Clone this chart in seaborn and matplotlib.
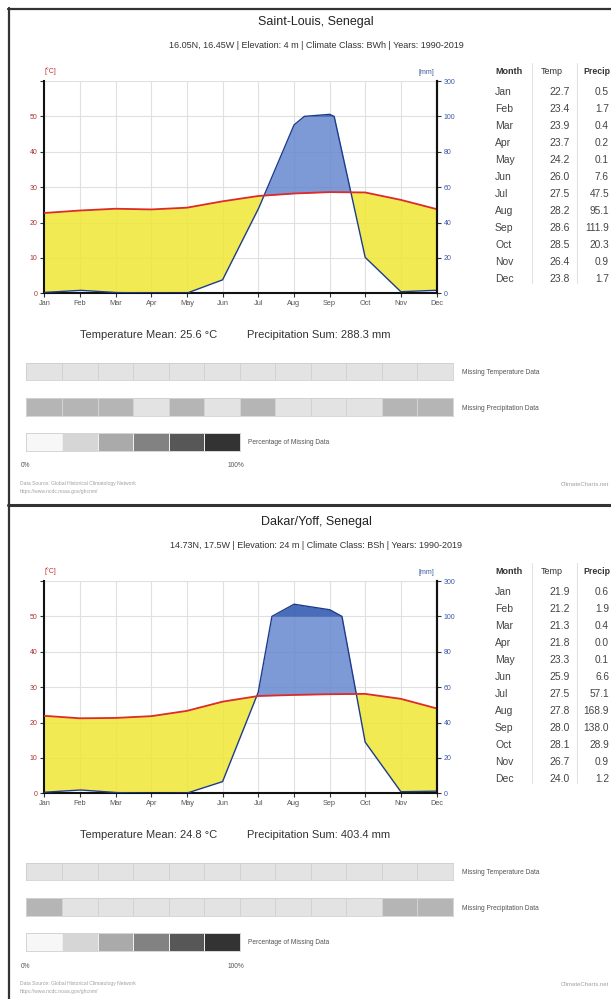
import numpy as np
import pandas as pd
import matplotlib
matplotlib.use('Agg')
import matplotlib.pyplot as plt
import seaborn as sns
from matplotlib.lines import Line2D
from matplotlib.colors import ListedColormap

# ---------------- data ----------------
months = ['Jan', 'Feb', 'Mar', 'Apr', 'May', 'Jun', 'Jul', 'Aug', 'Sep', 'Oct', 'Nov', 'Dec']

sl_name = 'Saint-Louis, Senegal'
sl_info = '16.05N, 16.45W | Elevation: 4 m | Climate Class: BWh | Years: 1990-2019'
sl_temp = [22.7, 23.4, 23.9, 23.7, 24.2, 26.0, 27.5, 28.2, 28.6, 28.5, 26.4, 23.8]
sl_prec = [0.5, 1.7, 0.4, 0.2, 0.1, 7.6, 47.5, 95.1, 111.9, 20.3, 0.9, 1.7]
sl_mean = '25.6'
sl_sum = '288.3'
sl_miss_temp = [0, 0, 0, 0, 0, 0, 0, 0, 0, 0, 0, 0]
sl_miss_prec = [1, 1, 1, 0, 1, 0, 1, 0, 0, 0, 1, 1]

dk_name = 'Dakar/Yoff, Senegal'
dk_info = '14.73N, 17.5W | Elevation: 24 m | Climate Class: BSh | Years: 1990-2019'
dk_temp = [21.9, 21.2, 21.3, 21.8, 23.3, 25.9, 27.5, 27.8, 28.0, 28.1, 26.7, 24.0]
dk_prec = [0.6, 1.9, 0.4, 0.0, 0.1, 6.6, 57.1, 168.9, 138.0, 28.9, 0.9, 1.2]
dk_mean = '24.8'
dk_sum = '403.4'
dk_miss_temp = [0, 0, 0, 0, 0, 0, 0, 0, 0, 0, 0, 0]
dk_miss_prec = [1, 0, 0, 0, 0, 0, 0, 0, 0, 0, 1, 1]

left_ticks = [0, 10, 20, 30, 40, 50, 60]
left_labels = ['0', '10', '20', '30', '40', '50', '']
right_labels = ['0', '20', '40', '60', '80', '100', '300']
legend_levels = [0, 1, 2, 3, 4, 5]

# ---------------- style ----------------
sns.set_theme(style='white')
plt.rcParams['font.family'] = ['Liberation Sans', 'DejaVu Sans']

W, H = 611, 999
fig = plt.figure(figsize=(W / 100, H / 100), dpi=100)


def fx(x):
    return x / W


def fy(y):
    return 1 - y / H


def rect(x0, y0, x1, y1):
    return [x0 / W, 1 - y1 / H, (x1 - x0) / W, (y1 - y0) / H]


def scale_prec(mm):
    mm = np.asarray(mm, float)
    return np.where(mm <= 100, mm / 2.0, 50 + (mm - 100) / 20.0)


def strip(vals, x0, x1, y0, y1, colors, lc):
    axh = fig.add_axes(rect(x0, y0, x1, y1))
    sns.heatmap(np.array([vals]), ax=axh, cmap=ListedColormap(colors),
                vmin=-0.5, vmax=len(colors) - 0.5, cbar=False,
                linewidths=0.6, linecolor=lc,
                xticklabels=False, yticklabels=False)
    for s in axh.spines.values():
        s.set_visible(True)
        s.set_color('#d0d0d0')
        s.set_linewidth(0.6)
    return axh


def panel(dy, name, info, temp, prec, tmean, psum, miss_t, miss_p):
    fig.text(fx(316), fy(22 + dy), name, ha='center', va='center', fontsize=9, color='#222222')
    fig.text(fx(316), fy(45 + dy), info, ha='center', va='center', fontsize=6.5, color='#333333')

    ax = fig.add_axes(rect(44.3, 81 + dy, 436.5, 293.3 + dy))
    x = np.arange(12)
    xd = np.linspace(0, 11, 2201)
    td = np.interp(xd, x, temp)
    mm_d = np.interp(xd, x, prec)
    ps = scale_prec(mm_d)

    ax.fill_between(xd, ps, td, where=td >= ps, interpolate=True,
                    color='#f0e734', alpha=0.85, lw=0, zorder=2)
    ax.fill_between(xd, td, np.minimum(ps, 50), where=ps >= td, interpolate=True,
                    color='#6687cf', alpha=0.85, lw=0, zorder=2)
    ax.fill_between(xd, 50, ps, where=ps >= 50, interpolate=True,
                    color='#2a54ae', alpha=0.85, lw=0, zorder=2)

    dfp = pd.DataFrame({'x': xd, 'p': ps})
    sns.lineplot(data=dfp, x='x', y='p', ax=ax, color='#1d3c8c', lw=1.0,
                 estimator=None, sort=False, zorder=3)
    dft = pd.DataFrame({'x': x, 't': temp})
    sns.lineplot(data=dft, x='x', y='t', ax=ax, color='#dd2a2a', lw=1.3,
                 estimator=None, sort=False, zorder=4)

    ax.set_xlim(0, 11)
    ax.set_ylim(0, 60)
    ax.set_xticks(x)
    ax.set_xticklabels(months, fontsize=5.3, color='#555555')
    ax.set_yticks(left_ticks)
    ax.set_yticklabels(left_labels, fontsize=5, color='#a83434')
    ax.set_xlabel('')
    ax.set_ylabel('')
    ax.grid(True, color='#e0e0e0', lw=0.8)
    ax.set_axisbelow(True)
    ax.spines['top'].set_visible(False)
    for s in ['left', 'bottom', 'right']:
        ax.spines[s].set_color('#111111')
        ax.spines[s].set_linewidth(1.5)
    ax.tick_params(axis='both', length=3, width=0.8, pad=2, color='#333333',
                   left=True, bottom=True)

    ax2 = ax.twinx()
    ax2.set_ylim(0, 60)
    ax2.set_yticks(left_ticks)
    ax2.set_yticklabels(right_labels, fontsize=5, color='#3a58a8')
    ax2.grid(False)
    for s in ['left', 'top', 'bottom']:
        ax2.spines[s].set_visible(False)
    ax2.spines['right'].set_color('#111111')
    ax2.spines['right'].set_linewidth(1.5)
    ax2.tick_params(axis='y', length=3, width=0.8, pad=2, color='#333333', right=True)

    fig.text(fx(50), fy(71 + dy), '[°C]', ha='center', va='center', fontsize=5, color='#c03030')
    fig.text(fx(426), fy(72 + dy), '[mm]', ha='center', va='center', fontsize=5, color='#3a58a8')

    # table
    hy = 71 + dy
    fig.text(fx(495), fy(hy), 'Month', ha='left', va='center', fontsize=6.5,
             fontweight='bold', color='#333333')
    fig.text(fx(541), fy(hy), 'Temp', ha='left', va='center', fontsize=6.5, color='#333333')
    fig.text(fx(583), fy(hy), 'Precip', ha='left', va='center', fontsize=6.3,
             fontweight='bold', color='#333333')
    for i, m in enumerate(months):
        ry = 92.3 + i * 16.97 + dy
        fig.text(fx(495), fy(ry), m, ha='left', va='center', fontsize=7.5, color='#444444')
        fig.text(fx(570), fy(ry), f'{temp[i]:.1f}', ha='right', va='center',
                 fontsize=7.5, color='#444444')
        fig.text(fx(609), fy(ry), f'{prec[i]:.1f}', ha='right', va='center',
                 fontsize=7.3, color='#444444')
    for sx in [532, 577]:
        fig.add_artist(Line2D([fx(sx), fx(sx)], [fy(63 + dy), fy(283 + dy)],
                              color='#e2e2e2', lw=0.8))

    fig.text(fx(80), fy(335 + dy), f'Temperature Mean: {tmean} °C', ha='left', va='center',
             fontsize=8, color='#333333')
    fig.text(fx(247), fy(335 + dy), f'Precipitation Sum: {psum} mm', ha='left', va='center',
             fontsize=8, color='#333333')

    cell_colors = ['#e3e3e3', '#b5b5b5']
    strip(miss_t, 26.5, 453, 362.7 + dy, 380 + dy, cell_colors, '#d2d2d2')
    fig.text(fx(462), fy(372 + dy), 'Missing Temperature Data', ha='left', va='center',
             fontsize=4.8, color='#555555')
    strip(miss_p, 26.5, 453, 398 + dy, 416 + dy, cell_colors, '#d2d2d2')
    fig.text(fx(462), fy(408 + dy), 'Missing Precipitation Data', ha='left', va='center',
             fontsize=4.8, color='#555555')
    legend_colors = ['#f7f7f7', '#d6d6d6', '#aaaaaa', '#828282', '#575757', '#333333']
    strip(legend_levels, 26.5, 240, 433 + dy, 451 + dy, legend_colors, '#eeeeee')
    fig.text(fx(248), fy(443 + dy), 'Percentage of Missing Data', ha='left', va='center',
             fontsize=4.8, color='#555555')
    fig.text(fx(21), fy(466 + dy), '0%', ha='left', va='center', fontsize=4.8, color='#555555')
    fig.text(fx(228), fy(466 + dy), '100%', ha='left', va='center', fontsize=4.8, color='#555555')

    fig.text(fx(20), fy(484 + dy), 'Data Source: Global Historical Climatology Network',
             ha='left', va='center', fontsize=3.6, color='#a0a0a0')
    fig.text(fx(20), fy(492 + dy), 'https://www.ncdc.noaa.gov/ghcnm/',
             ha='left', va='center', fontsize=3.6, color='#a0a0a0')
    fig.text(fx(609), fy(485 + dy), 'ClimateCharts.net', ha='right', va='center',
             fontsize=4.3, color='#a0a0a0')


panel(0, sl_name, sl_info, sl_temp, sl_prec, sl_mean, sl_sum, sl_miss_temp, sl_miss_prec)
panel(500, dk_name, dk_info, dk_temp, dk_prec, dk_mean, dk_sum, dk_miss_temp, dk_miss_prec)

# frame lines
fig.add_artist(Line2D([fx(9), fx(9)], [fy(8), fy(999)], color='#333333', lw=1.6))
fig.add_artist(Line2D([fx(8), fx(611)], [fy(9), fy(9)], color='#333333', lw=1.6))
fig.add_artist(Line2D([fx(8), fx(611)], [fy(505), fy(505)], color='#333333', lw=2.2))

fig.savefig('out.png', dpi=100)
